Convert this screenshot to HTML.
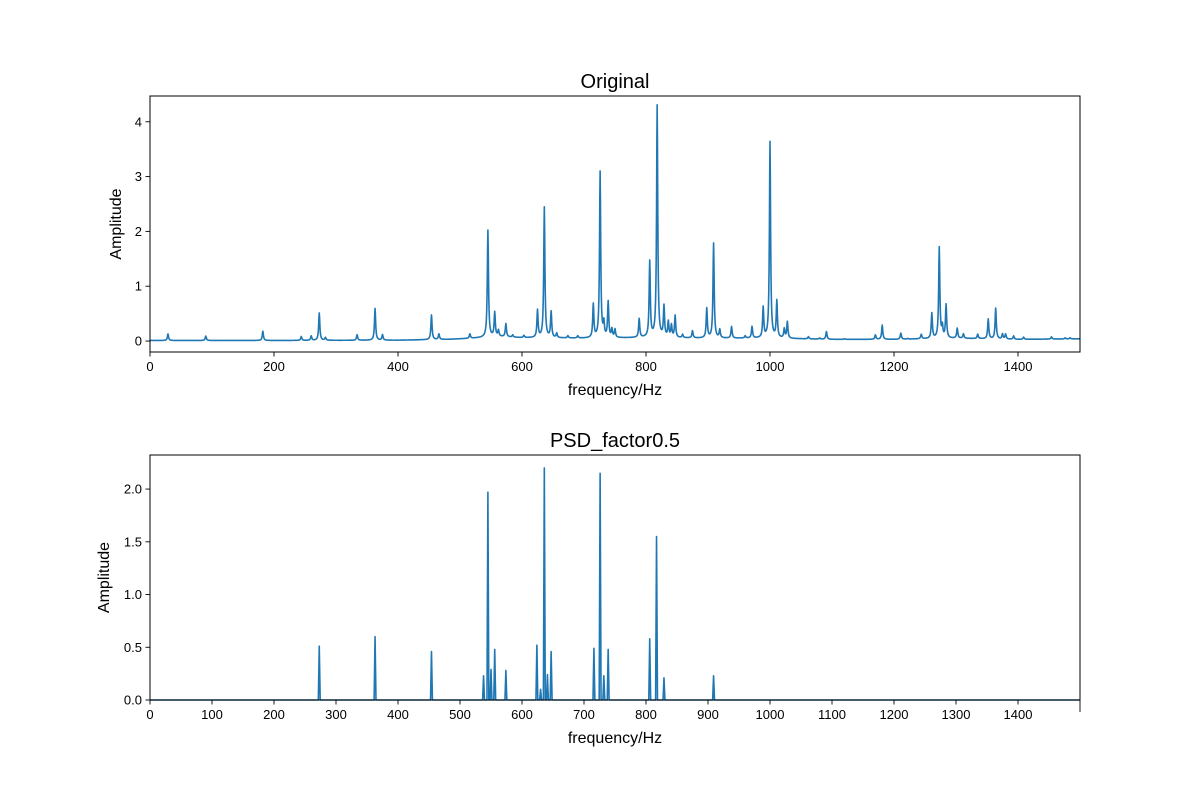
<!DOCTYPE html>
<html><head><meta charset="utf-8"><style>
html,body{margin:0;padding:0;background:#fff;}
svg text{font-family:"Liberation Sans","DejaVu Sans",sans-serif;fill:#000;}
</style></head><body>
<svg id="chart" width="1200" height="800" xmlns="http://www.w3.org/2000/svg"></svg>
<script>
// ---- Top plot data (Original) ----
const topPeakFreqs = [29,90,182,244,260,273,283,334,363,375,454,466,516,545,556,562,574,585,603,625,636,647,656,674,690,715,726,732,739,745,750,789,806,818,829,836,841,847,859,875,898,909,919,938,960,971,989,1000,1011,1023,1028,1062,1080,1091,1120,1170,1181,1211,1222,1244,1261,1273,1278,1284,1302,1312,1335,1352,1364,1375,1380,1393,1409,1454,1476,1484];
const topPeakAmps  = [0.12,0.08,0.17,0.07,0.08,0.5,0.05,0.1,0.58,0.1,0.45,0.1,0.08,1.95,0.44,0.11,0.24,0.04,0.04,0.5,2.38,0.47,0.08,0.04,0.04,0.61,3.03,0.25,0.65,0.15,0.15,0.34,1.38,4.23,0.56,0.28,0.22,0.4,0.06,0.13,0.54,1.73,0.15,0.21,0.04,0.21,0.55,3.58,0.67,0.17,0.3,0.04,0.02,0.14,0.01,0.08,0.26,0.11,0.01,0.08,0.46,1.66,0.2,0.61,0.18,0.08,0.08,0.36,0.56,0.09,0.09,0.06,0.04,0.04,0.02,0.02];
const topBaseFreqs = [0,200,400,480,520,560,600,700,800,900,1000,1100,1200,1300,1400,1500];
const topBaseVals  = [0.01,0.01,0.015,0.03,0.05,0.08,0.06,0.05,0.06,0.05,0.05,0.03,0.03,0.05,0.03,0.04];
const topXTicks = [0,200,400,600,800,1000,1200,1400];
const topYTicks = [0,1,2,3,4];
// ---- Bottom plot data (PSD_factor0.5) ----
const botPeakFreqs = [273,363,454,538,545,550,556,574,624,630,636,641,647,716,726,732,739,806,817,829,909];
const botPeakAmps  = [0.51,0.6,0.46,0.23,1.97,0.29,0.48,0.28,0.52,0.1,2.2,0.24,0.46,0.49,2.15,0.23,0.48,0.58,1.55,0.21,0.23];
const botXTicks = [0,100,200,300,400,500,600,700,800,900,1000,1100,1200,1300,1400];
const botYTicks = [0,0.5,1.0,1.5,2.0];
const botYTickLabels = ["0.0","0.5","1.0","1.5","2.0"];

const svg = document.getElementById('chart');
const NS = 'http://www.w3.org/2000/svg';
function mk(tag, attrs, parent){ const e=document.createElementNS(NS,tag); for(const k in attrs) e.setAttribute(k,attrs[k]); (parent||svg).appendChild(e); return e; }

function drawAxes(cfg){
  const {x0,x1,y0,y1,xmin,xmax,ymin,ymax,name} = cfg;
  const xs = v => x0 + (v-xmin)/(xmax-xmin)*(x1-x0);
  const ys = v => y1 - (v-ymin)/(ymax-ymin)*(y1-y0);
  const g = mk('g',{});
  
  
  return {xs,ys,g};
}

function baseAt(f){
  for(let i=0;i<topBaseFreqs.length-1;i++){
    if(f>=topBaseFreqs[i] && f<=topBaseFreqs[i+1]){
      const t=(f-topBaseFreqs[i])/(topBaseFreqs[i+1]-topBaseFreqs[i]);
      return topBaseVals[i]+t*(topBaseVals[i+1]-topBaseVals[i]);
    }
  }
  return topBaseVals[topBaseVals.length-1];
}

function frame(x0,x1,y0,y1,g,name){
  const r = mk('rect',{x:x0,y:y0,width:x1-x0,height:y1-y0,fill:'none',stroke:'#000','stroke-width':1},g);
  
  
}

function xTicks(ticks,labels,xs,y1,g,name){
  ticks.forEach((t,i)=>{
    const x=xs(t);
    mk('line',{x1:x,x2:x,y1:y1,y2:y1+4.5,stroke:'#000','stroke-width':0.9},g);
    const tx=mk('text',{x:x,y:y1+19,'font-size':13,'text-anchor':'middle'},g);
    tx.textContent = labels ? labels[i] : String(t);
    
    
  });
}
function yTicks(ticks,labels,ys,x0,g,name){
  ticks.forEach((t,i)=>{
    const y=ys(t);
    mk('line',{x1:x0-4.5,x2:x0,y1:y,y2:y,stroke:'#000','stroke-width':0.9},g);
    const tx=mk('text',{x:x0-8,y:y+4.5,'font-size':13,'text-anchor':'end'},g);
    tx.textContent = labels ? labels[i] : String(t);
    
    
  });
}
function labels(x0,x1,y0,y1,title,name){
  const cx=(x0+x1)/2;
  const t=mk('text',{x:cx,y:y0-8,'font-size':20,'text-anchor':'middle'});
  t.textContent=title;
  
  
  const xl=mk('text',{x:cx,y:y1+43,'font-size':16,'text-anchor':'middle'});
  xl.textContent='frequency/Hz';
  
  
  return xl;
}

// ---------- Top ----------
{
  const x0=150,x1=1080,y0=96,y1=352;
  const {xs,ys,g}=drawAxes({x0,x1,y0,y1,xmin:0,xmax:1500,ymin:-0.2,ymax:4.47,name:'original'});
  let d='';
  for(let f=0; f<=1500; f+=0.5){
    let v=baseAt(f);
    for(let i=0;i<topPeakFreqs.length;i++){
      const u=(f-topPeakFreqs[i])/1.1;
      v+=topPeakAmps[i]/(1+u*u);
    }
    d+=(f===0?'M':'L')+xs(f).toFixed(2)+','+ys(v).toFixed(2);
  }
  const p=mk('path',{d:d,fill:'none',stroke:'#1f77b4','stroke-width':1.6,'stroke-linejoin':'round'},g);
  
  
  frame(x0,x1,y0,y1,g,'original');
  xTicks(topXTicks,null,xs,y1,g,'original');
  yTicks(topYTicks,null,ys,x0,g,'original');
  labels(x0,x1,y0,y1,'Original','original');
  const yl=mk('text',{x:0,y:0,'font-size':16,'text-anchor':'middle',transform:'translate(121,'+((y0+y1)/2)+') rotate(-90)'});
  yl.textContent='Amplitude';
  
  
}

// ---------- Bottom ----------
{
  const x0=150,x1=1080,y0=455,y1=700;
  const {xs,ys,g}=drawAxes({x0,x1,y0,y1,xmin:0,xmax:1500,ymin:0,ymax:2.323,name:'psd'});
  let d='';
  for(let f=0; f<=1500; f+=0.5){
    let v=0;
    for(let i=0;i<botPeakFreqs.length;i++){
      const u=Math.abs(f-botPeakFreqs[i]);
      if(u<1.5) v=Math.max(v,botPeakAmps[i]*(1-u/1.5));
    }
    d+=(f===0?'M':'L')+xs(f).toFixed(2)+','+ys(v).toFixed(2);
  }
  const p=mk('path',{d:d,fill:'none',stroke:'#1f77b4','stroke-width':1.6,'stroke-linejoin':'round'},g);
  
  
  frame(x0,x1,y0,y1,g,'psd');
  xTicks(botXTicks,null,xs,y1,g,'psd');
  mk('line',{x1:xs(1500),x2:xs(1500),y1:y1,y2:y1+12,stroke:'#000','stroke-width':0.9},g);
  yTicks(botYTicks,botYTickLabels,ys,x0,g,'psd');
  labels(x0,x1,y0,y1,'PSD_factor0.5','psd');
  const yl=mk('text',{x:0,y:0,'font-size':16,'text-anchor':'middle',transform:'translate(109,'+((y0+y1)/2)+') rotate(-90)'});
  yl.textContent='Amplitude';
  
  
}
</script>
</body></html>
